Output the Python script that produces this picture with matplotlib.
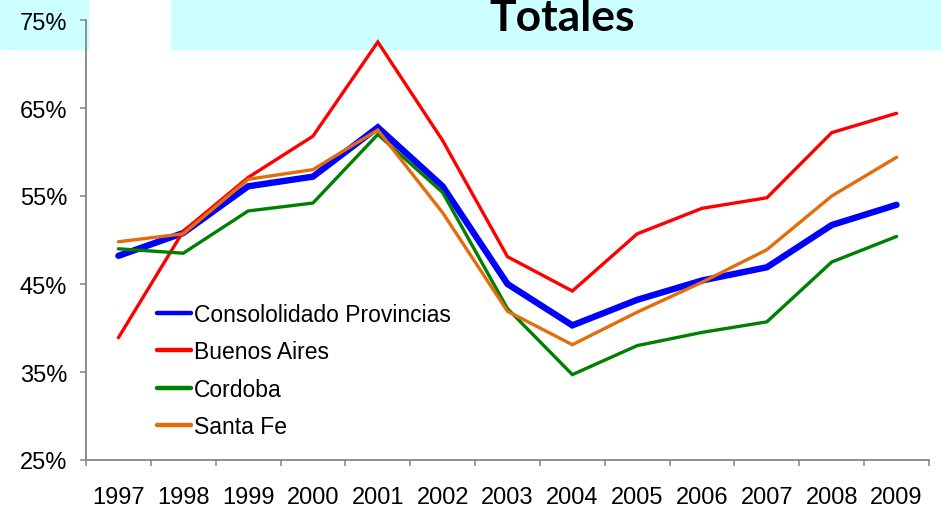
import numpy as np
import matplotlib.pyplot as plt
from matplotlib.patches import Rectangle

plt.rcParams['font.family'] = ['Liberation Sans', 'DejaVu Sans']

# data (percent)
years = ['1997', '1998', '1999', '2000', '2001', '2002', '2003',
         '2004', '2005', '2006', '2007', '2008', '2009']
consolidado = [48.2, 50.8, 56.1, 57.2, 62.8, 56.1, 45.0, 40.3, 43.2, 45.4, 46.9, 51.7, 54.0]
buenos_aires = [38.9, 51.0, 57.1, 61.8, 72.5, 61.3, 48.1, 44.2, 50.7, 53.6, 54.8, 62.2, 64.4]
cordoba = [49.0, 48.5, 53.3, 54.2, 62.0, 55.4, 42.2, 34.7, 38.0, 39.5, 40.7, 47.5, 50.4]
santa_fe = [49.8, 50.7, 56.9, 58.0, 62.5, 53.1, 41.9, 38.1, 41.8, 45.2, 48.9, 55.0, 59.4]

names = ['Consololidado Provincias', 'Buenos Aires', 'Cordoba', 'Santa Fe']
colors = ['#0000FF', '#FF0000', '#008000', '#E46C0A']
widths = [4.6, 2.4, 2.4, 2.4]
yticks = [25, 35, 45, 55, 65, 75]

W, H = 941, 510
fig = plt.figure(figsize=(W / 100, H / 100), dpi=100)

# cyan header bands, kept behind the axes
fig.patches.append(Rectangle((0, 1 - 50 / H), 88 / W, 50 / H,
                             transform=fig.transFigure, color='#CCFFFF', zorder=-5))
fig.patches.append(Rectangle((171 / W, 1 - 50 / H), 1 - 171 / W, 50 / H,
                             transform=fig.transFigure, color='#CCFFFF', zorder=-5))

ax = fig.add_axes([86 / W, 49 / H, (929 - 86) / W, (461 - 21) / H])
ax.patch.set_alpha(0)
ax.set_zorder(2)

x = np.arange(len(years))
series = [consolidado, buenos_aires, cordoba, santa_fe]
for vals, name, c, lw in zip(series, names, colors, widths):
    ax.plot(x, vals, color=c, lw=lw, label=name, solid_capstyle='round',
            solid_joinstyle='miter', clip_on=False)

ax.set_xlim(-0.5, len(years) - 0.5)
ax.set_ylim(25, 75)

gray = '#868686'
for s in ['top', 'right']:
    ax.spines[s].set_visible(False)
for s in ['left', 'bottom']:
    ax.spines[s].set_color(gray)
    ax.spines[s].set_linewidth(1.3)

ax.set_yticks(yticks)
ax.set_yticklabels(['{}%'.format(v) for v in yticks])
ax.tick_params(axis='y', direction='out', length=4.5, width=1.1, color=gray,
               labelsize=17, pad=9)

ax.set_xticks(x)
ax.set_xticklabels(years)
ax.set_xticks(np.arange(-0.5, len(years)), minor=True)
ax.tick_params(axis='x', which='major', length=0, labelsize=17, pad=19)
ax.tick_params(axis='x', which='minor', direction='out', length=4, width=1.1, color=gray)

leg = ax.legend(loc='upper left', bbox_to_anchor=(157 / W, 1 - 304 / H),
                bbox_transform=fig.transFigure, frameon=False, fontsize=16.5,
                handlelength=1.5, handletextpad=0.12, labelspacing=0.63,
                borderpad=0, borderaxespad=0)
for h in leg.get_lines():
    h.set_linewidth(3.2)

fig.text(562 / W, 1 - 31 / H, 'Totales', family=['Lato', 'DejaVu Sans'],
         fontweight='bold', fontsize=32, ha='center', va='baseline')

plt.savefig('out.png', dpi=100)
